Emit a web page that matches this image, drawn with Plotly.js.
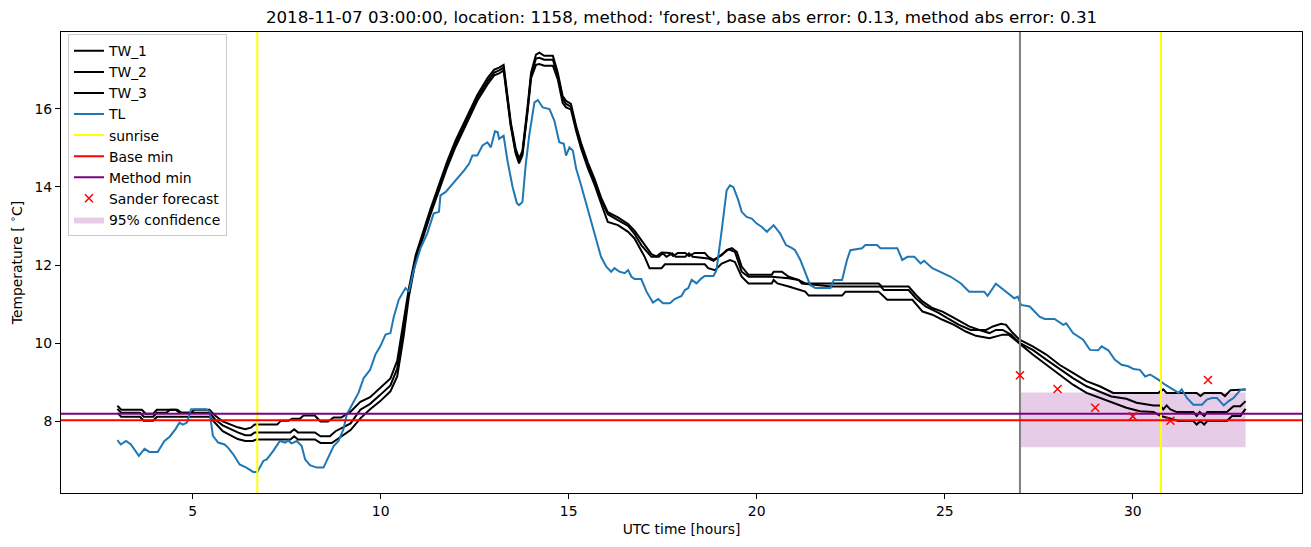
<!DOCTYPE html>
<html>
<head>
<meta charset="utf-8">
<script src="https://cdn.plot.ly/plotly-3.0.1.min.js"></script>
<style>html,body{margin:0;padding:0;background:#fff;}#chart{width:1311px;height:547px;}</style>
</head>
<body>
<div id="chart"></div>
<script>
// ---------------- data ----------------
const tlTime = [3.00,3.09,3.23,3.36,3.57,3.72,3.85,4.07,4.25,4.39,4.55,4.65,4.74,4.85,4.96,5.36,5.45,5.54,5.68,5.85,5.94,6.08,6.25,6.43,6.61,6.72,6.88,6.97,7.14,7.32,7.46,7.54,7.63,7.77,7.90,7.99,8.12,8.30,8.48,8.66,8.75,8.88,9.01,9.10,9.28,9.41,9.55,9.72,9.86,9.99,10.13,10.26,10.35,10.48,10.66,10.75,10.88,11.06,11.24,11.41,11.55,11.59,11.73,11.95,12.08,12.22,12.35,12.44,12.57,12.71,12.84,12.93,13.04,13.11,13.15,13.27,13.37,13.51,13.62,13.68,13.77,13.86,13.95,14.09,14.18,14.31,14.49,14.62,14.75,14.87,14.93,15.02,15.11,15.20,15.33,15.51,15.69,15.86,16.00,16.13,16.22,16.35,16.49,16.58,16.67,16.75,16.93,17.07,17.24,17.38,17.51,17.69,17.82,18.00,18.09,18.18,18.27,18.40,18.53,18.62,18.85,18.93,19.07,19.20,19.29,19.38,19.51,19.60,19.73,19.87,20.00,20.13,20.27,20.45,20.62,20.78,20.94,21.02,21.16,21.29,21.42,21.56,21.96,22.05,22.27,22.40,22.49,22.80,22.89,23.20,23.29,23.74,23.87,24.01,24.19,24.36,24.45,24.67,24.94,25.16,25.43,25.65,26.05,26.14,26.36,26.54,26.72,26.85,26.94,27.03,27.26,27.52,27.66,27.92,28.15,28.23,28.41,28.55,28.68,28.86,29.08,29.17,29.35,29.52,29.70,29.88,30.02,30.19,30.33,30.46,30.68,30.86,31.08,31.22,31.30,31.44,31.61,31.84,31.97,32.10,32.24,32.42,32.55,32.68,32.86,33.00];
const tlValues = [7.52,7.41,7.50,7.41,7.12,7.30,7.22,7.22,7.50,7.61,7.81,7.97,7.92,7.97,8.31,8.31,8.26,7.63,7.46,7.41,7.33,7.16,6.90,6.82,6.71,6.71,6.99,7.03,7.24,7.50,7.46,7.51,7.44,7.50,7.37,7.03,6.88,6.82,6.82,7.20,7.37,7.50,7.80,8.18,8.50,8.73,9.11,9.32,9.71,9.92,10.22,10.26,10.68,11.11,11.41,11.32,11.87,12.43,12.81,13.32,13.36,13.78,13.87,14.12,14.25,14.42,14.59,14.80,14.80,15.06,15.14,15.01,15.42,15.40,15.23,15.31,14.68,13.99,13.59,13.53,13.61,14.59,15.31,16.16,16.22,16.03,15.99,15.69,15.14,15.10,14.80,15.01,14.93,14.46,14.04,13.40,12.81,12.21,11.96,11.83,11.92,11.83,11.79,11.87,11.70,11.64,11.64,11.32,11.04,11.13,11.02,11.02,11.13,11.21,11.36,11.41,11.62,11.53,11.66,11.72,11.72,11.87,12.89,13.91,14.04,13.99,13.66,13.36,13.23,13.19,13.06,12.98,12.85,13.02,12.81,12.51,12.43,12.38,12.13,11.79,11.49,11.41,11.41,11.62,11.62,12.13,12.38,12.43,12.51,12.51,12.43,12.43,12.13,12.21,12.21,12.04,12.11,11.92,11.79,11.70,11.53,11.32,11.32,11.21,11.52,11.38,11.24,11.15,11.19,10.98,10.94,10.68,10.62,10.62,10.47,10.51,10.26,10.17,10.09,9.83,9.82,9.92,9.82,9.58,9.45,9.41,9.34,9.32,9.15,9.20,9.07,8.94,8.82,8.73,8.82,8.60,8.43,8.43,8.56,8.60,8.60,8.41,8.52,8.60,8.80,8.82];

const tw1Time = [3.00,3.10,3.65,3.75,3.95,4.05,4.60,4.70,4.95,5.05,5.45,5.60,5.80,6.00,6.20,6.40,6.55,6.65,7.25,7.35,7.55,7.65,7.85,7.95,8.25,8.40,8.60,8.75,8.95,9.20,9.46,9.72,9.99,10.26,10.44,10.61,10.75,10.93,11.10,11.32,11.55,11.77,11.99,12.22,12.39,12.57,12.84,13.02,13.15,13.27,13.46,13.59,13.68,13.77,13.91,14.00,14.13,14.22,14.35,14.58,14.71,14.84,14.93,15.06,15.20,15.33,15.51,15.69,15.86,16.04,16.31,16.58,16.75,17.02,17.20,17.33,17.47,17.69,17.78,17.90,18.10,18.20,18.35,18.62,18.71,18.85,19.07,19.20,19.34,19.47,19.60,19.78,20.40,20.45,20.67,20.85,21.11,21.29,22.27,23.24,23.33,24.04,24.23,24.41,24.67,24.94,25.21,25.43,25.65,25.92,26.10,26.28,26.50,26.63,26.81,26.99,27.34,27.70,28.05,28.41,28.77,29.12,29.48,30.68,30.81,30.90,31.70,31.80,31.90,32.35,32.45,32.60,33.00];
const tw1Values = [8.40,8.30,8.30,8.20,8.20,8.30,8.30,8.22,8.22,8.30,8.30,8.15,8.00,7.92,7.85,7.80,7.84,7.92,7.92,8.02,8.02,8.07,8.07,8.15,8.15,8.00,8.00,8.10,8.10,8.25,8.50,8.62,8.85,9.10,9.55,10.55,11.40,12.25,12.78,13.42,14.05,14.65,15.18,15.65,15.98,16.35,16.78,17.00,17.05,17.12,15.65,14.98,14.72,14.92,16.08,16.92,17.38,17.43,17.35,17.35,16.92,16.32,16.20,16.12,15.55,15.12,14.62,14.20,13.73,13.35,13.22,13.05,12.88,12.50,12.28,12.22,12.32,12.31,12.23,12.31,12.31,12.23,12.31,12.31,12.21,12.13,12.25,12.38,12.43,12.34,11.96,11.75,11.75,11.83,11.83,11.70,11.62,11.53,11.53,11.53,11.45,11.45,11.24,11.07,10.90,10.81,10.67,10.56,10.43,10.34,10.34,10.43,10.50,10.47,10.26,10.09,9.92,9.71,9.45,9.24,9.03,8.90,8.73,8.73,8.82,8.73,8.73,8.65,8.73,8.73,8.65,8.80,8.82];

const tw2Time = [3.00,3.10,3.60,3.70,3.95,4.05,4.30,4.40,4.55,4.65,5.45,5.60,5.80,6.00,6.20,6.40,6.55,6.65,7.60,7.70,7.80,8.25,8.40,8.65,8.80,9.00,9.20,9.46,9.72,9.99,10.26,10.44,10.61,10.75,10.93,11.10,11.32,11.55,11.77,11.99,12.22,12.39,12.57,12.84,13.02,13.15,13.27,13.46,13.59,13.68,13.77,13.91,14.00,14.13,14.22,14.35,14.58,14.71,14.84,14.93,15.06,15.20,15.33,15.51,15.69,15.86,16.04,16.31,16.58,16.75,16.93,17.20,17.40,17.50,17.60,17.75,17.85,18.10,18.20,18.30,18.71,18.85,18.98,19.25,19.42,19.60,19.78,20.40,20.85,21.11,21.20,22.00,23.30,23.38,24.04,24.23,24.49,24.85,25.07,25.38,25.69,25.92,26.19,26.36,26.54,26.76,26.99,27.34,27.70,28.05,28.41,28.77,29.12,29.43,29.83,30.10,30.55,30.73,30.81,30.90,31.00,31.17,31.61,31.70,31.78,31.90,31.98,32.50,32.68,32.86,33.00];
const tw2Values = [8.32,8.22,8.22,8.12,8.12,8.22,8.22,8.30,8.30,8.22,8.22,8.05,7.90,7.80,7.72,7.65,7.65,7.72,7.72,7.80,7.72,7.72,7.62,7.62,7.75,7.85,7.95,8.30,8.45,8.68,8.92,9.35,10.38,11.30,12.18,12.70,13.35,13.98,14.58,15.10,15.57,15.90,16.28,16.70,16.92,16.98,17.05,15.60,14.90,14.65,14.85,16.00,16.85,17.28,17.30,17.25,17.25,16.85,16.25,16.12,16.05,15.50,15.06,14.55,14.12,13.66,13.30,13.15,13.00,12.80,12.51,12.21,12.21,12.30,12.21,12.30,12.21,12.21,12.30,12.21,12.17,12.11,12.21,12.40,12.34,11.83,11.70,11.70,11.66,11.62,11.53,11.45,11.45,11.36,11.36,11.15,10.94,10.77,10.64,10.47,10.34,10.34,10.26,10.34,10.34,10.22,10.01,9.83,9.58,9.34,9.11,8.90,8.77,8.64,8.58,8.48,8.41,8.41,8.31,8.41,8.31,8.24,8.24,8.14,8.24,8.14,8.24,8.24,8.39,8.39,8.52];

const tw3Time = [3.00,3.10,3.60,3.70,3.95,4.05,5.45,5.60,5.80,6.00,6.20,6.40,6.60,6.70,7.60,7.70,7.80,8.25,8.40,8.70,8.85,9.00,9.20,9.46,9.72,9.99,10.26,10.44,10.61,10.75,10.93,11.10,11.32,11.55,11.77,11.99,12.22,12.39,12.57,12.84,13.02,13.15,13.27,13.46,13.59,13.68,13.77,13.91,14.00,14.13,14.22,14.35,14.58,14.71,14.84,14.93,15.06,15.20,15.33,15.51,15.69,15.86,16.04,16.31,16.58,16.75,17.02,17.15,17.47,17.56,18.62,18.71,18.89,19.07,19.29,19.42,19.60,19.78,20.40,20.45,20.55,20.85,21.29,21.38,22.27,22.36,23.24,23.47,24.14,24.41,24.67,24.94,25.25,25.56,25.83,26.19,26.54,26.70,26.90,27.08,27.34,27.70,28.05,28.41,28.77,29.12,29.48,29.83,30.19,30.55,30.75,31.08,31.22,31.61,31.70,31.80,31.90,31.98,32.50,32.64,32.86,33.00];
const tw3Values = [8.22,8.12,8.12,8.02,8.02,8.12,8.12,7.95,7.75,7.65,7.55,7.50,7.50,7.54,7.54,7.62,7.54,7.54,7.45,7.45,7.55,7.65,7.78,8.08,8.31,8.52,8.77,9.15,10.17,11.19,12.10,12.62,13.28,13.90,14.50,15.02,15.48,15.82,16.20,16.62,16.85,16.90,16.98,15.55,14.85,14.60,14.80,15.95,16.78,17.12,17.14,17.10,17.10,16.75,16.15,16.03,15.98,15.42,14.98,14.48,14.05,13.58,13.10,13.02,12.85,12.68,12.21,11.92,11.92,12.02,12.02,11.92,11.87,12.04,12.13,12.08,11.70,11.53,11.53,11.62,11.53,11.45,11.32,11.22,11.22,11.32,11.32,11.11,11.11,10.81,10.73,10.60,10.47,10.30,10.19,10.13,10.22,10.22,10.05,9.92,9.71,9.45,9.20,8.94,8.73,8.60,8.48,8.35,8.26,8.24,8.14,8.05,8.01,8.01,7.92,8.01,7.92,8.01,8.01,8.14,8.14,8.32];

const sunriseTimes = [6.72, 30.75];
const forecastStart = 27.0;
const baseMin = 8.03;
const methodMin = 8.20;
const sanderTime = [27, 28, 29, 30, 31, 32];
const sanderValues = [9.18, 8.83, 8.35, 8.13, 8.02, 9.06];
const confTime = [27, 33];
const confLow = 7.34;
const confHigh = 8.74;

const titleText = "2018-11-07 03:00:00, location: 1158, method: 'forest', base abs error: 0.13, method abs error: 0.31";
const xTicks = [5, 10, 15, 20, 25, 30];
const yTicks = [8, 10, 12, 14, 16];

// ---------------- axes ranges (matplotlib-like 5% margins) ----------------
const xRange = [1.5, 34.5];
const yRange = [6.17, 17.96];

const FONT = 'DejaVu Sans, Verdana, sans-serif';

function vline(xs) {
  const X = [], Y = [];
  xs.forEach((v, i) => { if (i) { X.push(null); Y.push(null); } X.push(v, v); Y.push(yRange[0], yRange[1]); });
  return {x: X, y: Y};
}

const traces = [];
// confidence band (drawn first, legend last)
traces.push({
  x: [confTime[0], confTime[1], confTime[1], confTime[0], confTime[0]],
  y: [confLow, confLow, confHigh, confHigh, confLow],
  type: 'scatter', mode: 'lines', fill: 'toself',
  fillcolor: 'rgba(128,0,128,0.2)', line: {width: 0, color: 'rgba(128,0,128,0)'},
  name: '95% confidence', legendrank: 9, hoverinfo: 'skip'
});
const twCol = '#000000';
traces.push({x: tw1Time, y: tw1Values, type: 'scatter', mode: 'lines', name: 'TW_1', line: {color: twCol, width: 2}, legendrank: 1});
traces.push({x: tw2Time, y: tw2Values, type: 'scatter', mode: 'lines', name: 'TW_2', line: {color: twCol, width: 2}, legendrank: 2});
traces.push({x: tw3Time, y: tw3Values, type: 'scatter', mode: 'lines', name: 'TW_3', line: {color: twCol, width: 2}, legendrank: 3});
traces.push({x: tlTime, y: tlValues, type: 'scatter', mode: 'lines', name: 'TL', line: {color: '#1f77b4', width: 2}, legendrank: 4});
const sr = vline(sunriseTimes);
traces.push({x: sr.x, y: sr.y, type: 'scatter', mode: 'lines', name: 'sunrise', line: {color: '#ffff00', width: 2}, legendrank: 5});
const fs = vline([forecastStart]);
traces.push({x: fs.x, y: fs.y, type: 'scatter', mode: 'lines', showlegend: false, line: {color: '#808080', width: 2}});
traces.push({x: xRange, y: [baseMin, baseMin], type: 'scatter', mode: 'lines', name: 'Base min', line: {color: '#ff0000', width: 2}, legendrank: 6});
traces.push({x: xRange, y: [methodMin, methodMin], type: 'scatter', mode: 'lines', name: 'Method min', line: {color: '#800080', width: 2}, legendrank: 7});
traces.push({x: sanderTime, y: sanderValues, type: 'scatter', mode: 'markers', name: 'Sander forecast',
  marker: {symbol: 'x-thin', size: 8, color: '#ff0000', line: {color: '#ff0000', width: 1.5}}, legendrank: 8});

const layout = {
  width: 1311, height: 547,
  paper_bgcolor: '#ffffff', plot_bgcolor: '#ffffff',
  margin: {l: 61, r: 9, t: 32, b: 54},
  font: {family: FONT, size: 14, color: '#000000'},
  title: {text: titleText, font: {family: FONT, size: 16.67, color: '#000'}, x: 0.5, xref: 'paper', xanchor: 'center', y: 1 - 17/547, yref: 'container', yanchor: 'middle'},
  showlegend: true,
  legend: {x: 0.0056, y: 0.995, xanchor: 'left', yanchor: 'top', bgcolor: 'rgba(255,255,255,0.8)',
    bordercolor: '#cccccc', borderwidth: 1, font: {family: FONT, size: 13.9}, itemwidth: 30, tracegroupgap: 0},
  xaxis: {range: xRange, tickvals: xTicks, ticktext: xTicks.map(String), ticks: 'outside', ticklen: 5, tickwidth: 1, tickcolor: '#000',
    showline: true, mirror: true, linecolor: '#000', linewidth: 1, showgrid: false, zeroline: false,
    tickfont: {family: FONT, size: 13.9}, title: {text: 'UTC time [hours]', font: {family: FONT, size: 13.9}, standoff: 6}},
  yaxis: {range: yRange, tickvals: yTicks, ticktext: yTicks.map(String), ticks: 'outside', ticklen: 5, tickwidth: 1, tickcolor: '#000',
    showline: true, mirror: true, linecolor: '#000', linewidth: 1, showgrid: false, zeroline: false,
    tickfont: {family: FONT, size: 13.9}, title: {text: 'Temperature [ <sup>∘</sup>C]', font: {family: FONT, size: 13.9}, standoff: 8}},
  hovermode: false
};

Plotly.newPlot('chart', traces, layout, {staticPlot: true, displayModeBar: false});
</script>
</body>
</html>
